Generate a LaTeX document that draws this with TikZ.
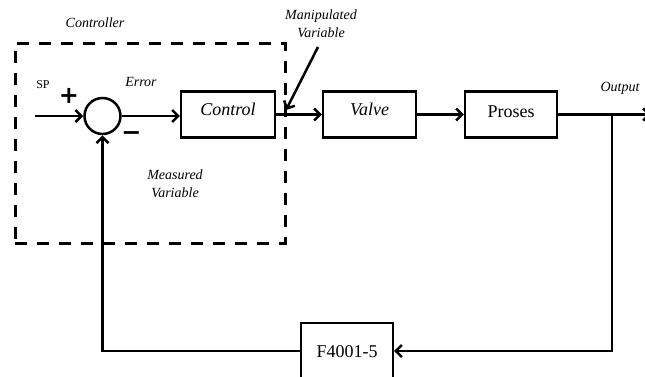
\documentclass[tikz,border=0pt]{standalone}
\usepackage{fontspec}
\setmainfont{Liberation Serif}
\newfontfamily\signfont{DejaVu Sans}
\usetikzlibrary{arrows.meta}
\begin{document}
\begin{tikzpicture}[x=1pt,y=-1pt,
  blk/.style={draw, line width=2.3pt, minimum height=46pt, inner sep=0pt},
  bigit/.style={font=\fontsize{18}{20}\selectfont\itshape},
  bigup/.style={font=\fontsize{18}{20}\selectfont},
  lbl/.style={font=\fontsize{14}{18}\selectfont\itshape, inner sep=0pt},
  sgn/.style={font=\fontsize{24}{24}\signfont\bfseries, inner sep=0pt},
  ln/.style={line width=2.5pt},
  arr/.style={ln, -{Straight Barb[length=6pt,width=12pt]}},
  ctlbox/.style={draw, line width=3pt, dash pattern=on 12pt off 10pt, inner sep=0pt}
]
\useasboundingbox (0,0) rectangle (645,376);

% controller dashed frame
\node[ctlbox, minimum width=270pt, minimum height=200pt] (frame) at (150,143) {};

% blocks
\node[circle, draw, line width=2.5pt, minimum size=36pt, inner sep=0pt] (sum) at (102.5,116) {};
\node[blk, bigit, minimum width=94pt, text height=8pt, text depth=6pt] (ctrl) at (228,114.5) {Control};
\node[blk, bigit, minimum width=93pt, text height=8pt, text depth=6pt] (valve) at (369.5,114.5) {Valve};
\node[blk, bigup, minimum width=92pt, text height=12pt, text depth=6pt] (proc) at (511,114.5) {Proses};
\node[blk, bigup, minimum width=92pt, minimum height=56pt, text height=14pt, text depth=2pt] (fb) at (347,351) {F4001-5};

% labels
\node[lbl] (lcontroller) at (95,23) {Controller};
\node[font=\fontsize{12}{13}\selectfont, inner sep=0pt] (lsp) at (43,85) {SP};
\node[sgn, anchor=base] (lplus) at (69,103) {+};
\node[sgn, anchor=base] (lminus) at (131.5,140) {−};
\node[lbl] (lerror) at (141,82) {Error};
\node[lbl, align=center] (lmeas) at (175,184) {Measured\\Variable};
\node[lbl, align=center] (lmv) at (321,24) {Manipulated\\Variable};
\node[lbl] (lout) at (620,88) {Output};

% connectors
\coordinate (spin) at (35,116);
\draw[arr] (spin) -- (sum.west);
\draw[arr] (sum.east) -- (sum.east -| ctrl.west);
\draw[arr] (ctrl.east) -- (valve.west);
\draw[arr] (valve.east) -- (proc.west);
\coordinate (outend) at (651,114.5);
\draw[arr] (proc.east) -- (outend);
\coordinate (br) at (612,114.5);
\draw[arr] (br) |- (fb.east);
\draw[arr] (fb.west) -| (sum.south);
\coordinate (mvtail) at (318,47);
\coordinate (mvtip) at (286,110);
\draw[arr] (mvtail) -- (mvtip);
\end{tikzpicture}
\end{document}
